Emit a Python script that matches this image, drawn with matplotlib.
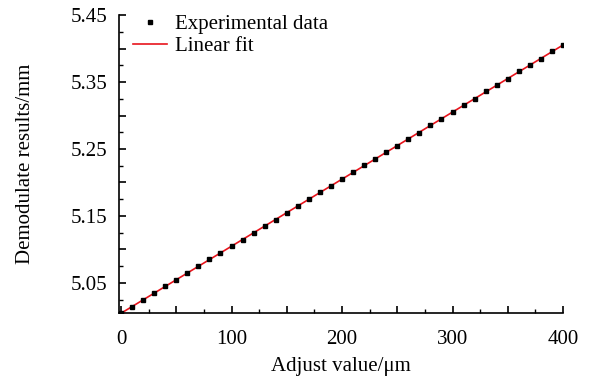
import numpy as np
import matplotlib
matplotlib.use('Agg')
import matplotlib.pyplot as plt
from matplotlib.ticker import MultipleLocator, FuncFormatter

plt.rcParams['font.family'] = ['Liberation Serif', 'DejaVu Serif']

# adjust value (um) and demodulated result (mm)
adjust = list(range(0, 401, 10))
demod = [5.005, 5.014, 5.024, 5.035, 5.045, 5.055, 5.065, 5.075, 5.085, 5.094,
         5.105, 5.114, 5.125, 5.135, 5.144, 5.155, 5.165, 5.175, 5.185, 5.194,
         5.205, 5.215, 5.226, 5.235, 5.245, 5.255, 5.265, 5.274, 5.286, 5.295,
         5.305, 5.315, 5.325, 5.336, 5.345, 5.355, 5.366, 5.375, 5.385, 5.396,
         5.405]

x = np.array(adjust)
y = np.array(demod)
k, b = np.polyfit(x, y, 1)

fig = plt.figure(figsize=(5.89, 3.78), dpi=100)
ax = fig.add_axes([0.2017, 0.172, 0.7542, 0.788])

ax.plot(x, k * x + b, color='#e8141c', lw=1.2, label='Linear fit', zorder=2)
ax.plot(x, y, 's', color='black', ms=2.2, label='Experimental data', zorder=3)

ax.set_xlim(-2, 400)
ax.set_ylim(5.005, 5.45)

ax.spines['top'].set_visible(False)
ax.spines['right'].set_visible(False)
for s in ['left', 'bottom']:
    ax.spines[s].set_linewidth(1.2)

ax.xaxis.set_major_locator(MultipleLocator(50))
ax.xaxis.set_minor_locator(MultipleLocator(25))
ax.yaxis.set_major_locator(MultipleLocator(0.05))
ax.yaxis.set_minor_locator(MultipleLocator(0.025))

def xfmt(v, pos):
    return '%d' % v if abs(v % 100) < 1e-6 else ''

def yfmt(v, pos):
    n = (v - 5.05) / 0.1
    return '%.2f' % v if abs(n - round(n)) < 1e-3 else ''

ax.xaxis.set_major_formatter(FuncFormatter(xfmt))
ax.yaxis.set_major_formatter(FuncFormatter(yfmt))
ax.tick_params(which='major', direction='in', length=5, width=1.2, labelsize=15, pad=8)
ax.tick_params(axis='x', which='major', pad=12)
ax.tick_params(which='minor', direction='in', length=3, width=1.0)

ax.set_xlabel('Adjust value/μm', fontsize=15, labelpad=6)
ax.set_ylabel('Demodulate results/mm', fontsize=15, labelpad=26)

h, l = ax.get_legend_handles_labels()
ax.legend(h[::-1], l[::-1], loc='upper left', bbox_to_anchor=(0.0, 1.05), frameon=False,
          fontsize=15, handlelength=1.6, handletextpad=0.4, labelspacing=0.12,
          borderaxespad=0.3)

fig.savefig('out.png', dpi=100)
